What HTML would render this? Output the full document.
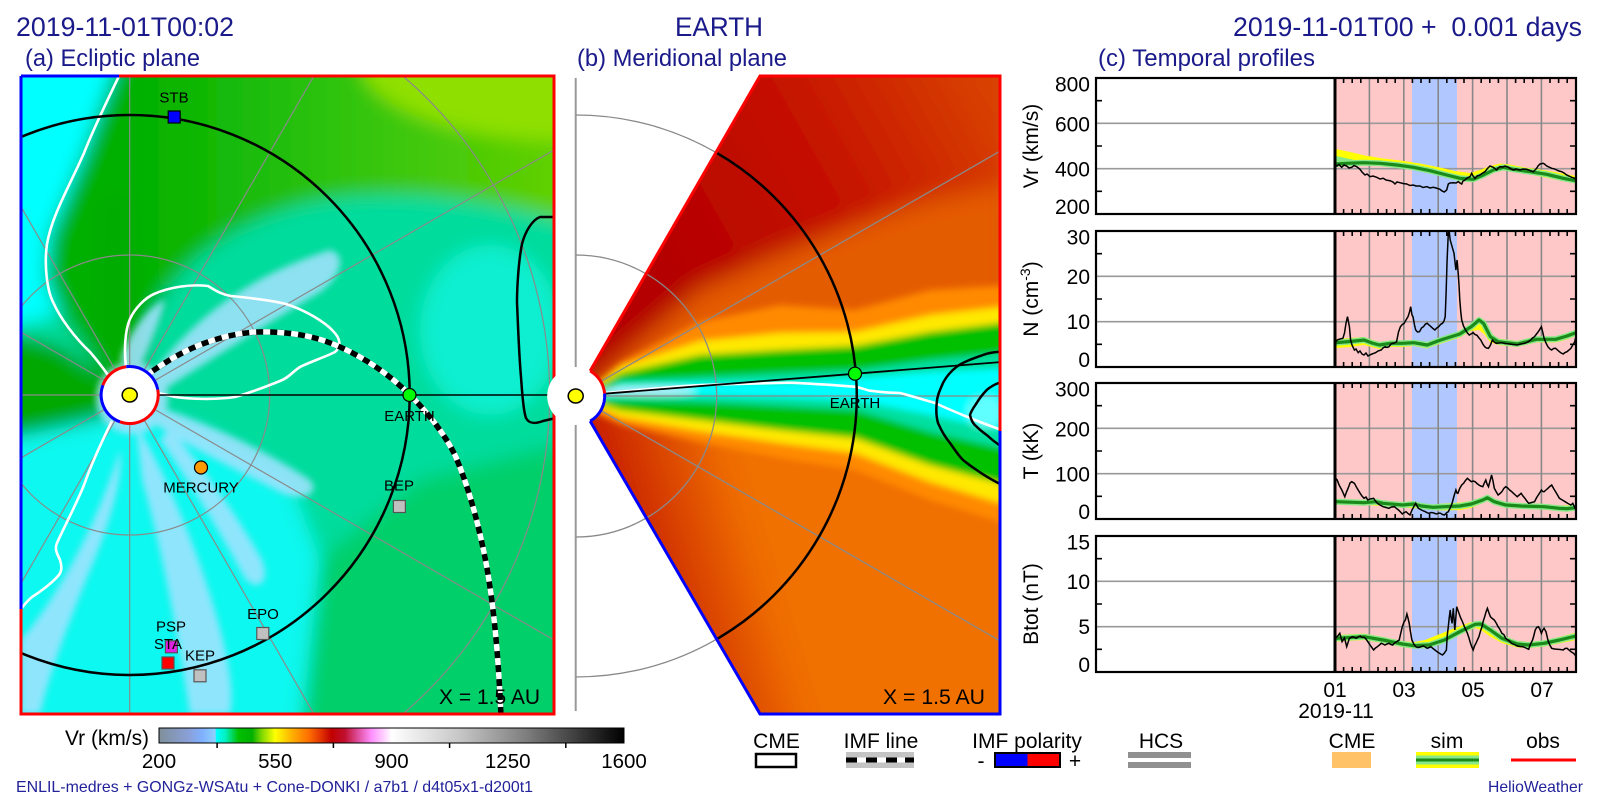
<!DOCTYPE html>
<html><head><meta charset="utf-8"><style>
html,body{margin:0;padding:0;background:#fff;width:1600px;height:800px;overflow:hidden;}
svg{display:block;overflow:hidden;}
text{font-family:"Liberation Sans",Arial,sans-serif;}
</style></head><body>
<svg width="1600" height="800" viewBox="0 0 1600 800" xmlns="http://www.w3.org/2000/svg">
<defs>
 <filter id="blBig" filterUnits="userSpaceOnUse" x="0" y="50" width="600" height="700"><feGaussianBlur stdDeviation="9"/></filter>
 <filter id="blSm" filterUnits="userSpaceOnUse" x="0" y="50" width="600" height="700"><feGaussianBlur stdDeviation="3.5"/></filter>
 <filter id="blB" filterUnits="userSpaceOnUse" x="560" y="50" width="460" height="700"><feGaussianBlur stdDeviation="3.5"/></filter>
 <filter id="blB2" filterUnits="userSpaceOnUse" x="560" y="50" width="460" height="700"><feGaussianBlur stdDeviation="12"/></filter>
 <clipPath id="clipA"><rect x="21" y="76" width="533" height="638"/></clipPath>
 <clipPath id="clipB"><path d="M590.2,370.9 L760,76 L1000,76 L1000,714 L760,714 L590.2,421.1 A29,29 0 0 0 590.2,370.9 Z"/></clipPath>
 <clipPath id="cV"><rect x="1096" y="78" width="480" height="136"/></clipPath>
 <clipPath id="cN"><rect x="1096" y="231" width="480" height="136"/></clipPath>
 <clipPath id="cT"><rect x="1096" y="383" width="480" height="136"/></clipPath>
 <clipPath id="cB"><rect x="1096" y="536" width="480" height="136"/></clipPath>
 <linearGradient id="cbar" x1="0" x2="1" y1="0" y2="0">
  <stop offset="0" stop-color="#7f8f9a"/>
  <stop offset="0.064" stop-color="#8aa0d8"/>
  <stop offset="0.093" stop-color="#80b0ff"/>
  <stop offset="0.121" stop-color="#90d0ff"/>
  <stop offset="0.123" stop-color="#00ffff"/>
  <stop offset="0.143" stop-color="#00f0c0"/>
  <stop offset="0.171" stop-color="#00c000"/>
  <stop offset="0.2" stop-color="#00b000"/>
  <stop offset="0.221" stop-color="#80d800"/>
  <stop offset="0.25" stop-color="#ffff00"/>
  <stop offset="0.286" stop-color="#ffb000"/>
  <stop offset="0.321" stop-color="#ff7000"/>
  <stop offset="0.35" stop-color="#e03000"/>
  <stop offset="0.371" stop-color="#c00000"/>
  <stop offset="0.4" stop-color="#c01030"/>
  <stop offset="0.429" stop-color="#e050a0"/>
  <stop offset="0.457" stop-color="#ff90ff"/>
  <stop offset="0.486" stop-color="#ffd8ff"/>
  <stop offset="0.5" stop-color="#ffffff"/>
  <stop offset="0.643" stop-color="#c8c8c8"/>
  <stop offset="0.786" stop-color="#808080"/>
  <stop offset="1" stop-color="#000000"/>
 </linearGradient>
 <linearGradient id="gA" gradientUnits="userSpaceOnUse" x1="130" y1="0" x2="554" y2="0">
  <stop offset="0" stop-color="#00b000"/><stop offset="0.5" stop-color="#30c410"/><stop offset="1" stop-color="#60d000"/>
 </linearGradient>
 <linearGradient id="gUp" gradientUnits="userSpaceOnUse" x1="680" y1="300" x2="1000" y2="120">
  <stop offset="0" stop-color="#b40000"/><stop offset="0.5" stop-color="#c41000"/><stop offset="1" stop-color="#d84000"/>
 </linearGradient>
 <linearGradient id="gLo" gradientUnits="userSpaceOnUse" x1="640" y1="620" x2="770" y2="580">
  <stop offset="0" stop-color="#c41800"/><stop offset="1" stop-color="#f07000"/>
 </linearGradient>

 <g id="pbg">
  <rect x="1096" y="0" width="480" height="136" fill="#fff"/>
  <rect x="1335" y="0" width="241" height="136" fill="#ffc8c8"/>
  <rect x="1412" y="0" width="45" height="136" fill="#b0c8ff"/>
  <path d="M1096,45.33H1576M1096,90.67H1576" stroke="#999" stroke-width="1.6" fill="none"/>
  <path d="M1369.4,0V136M1403.8,0V136M1438.2,0V136M1472.6,0V136M1507,0V136M1541.4,0V136" stroke="#888" stroke-width="1.6" fill="none"/>
 </g>
 <g id="pfg">
  <path d="M1335,0V136" stroke="#000" stroke-width="3" fill="none"/>
  <path d="M1343.6,0v5M1352.2,0v5M1360.8,0v5M1378,0v5M1386.6,0v5M1395.2,0v5M1412.4,0v5M1421,0v5M1429.6,0v5M1446.8,0v5M1455.4,0v5M1464,0v5M1481.2,0v5M1489.8,0v5M1498.4,0v5M1515.6,0v5M1524.2,0v5M1532.8,0v5M1550,0v5M1558.6,0v5M1567.2,0v5M1343.6,136v-5M1352.2,136v-5M1360.8,136v-5M1378,136v-5M1386.6,136v-5M1395.2,136v-5M1412.4,136v-5M1421,136v-5M1429.6,136v-5M1446.8,136v-5M1455.4,136v-5M1464,136v-5M1481.2,136v-5M1489.8,136v-5M1498.4,136v-5M1515.6,136v-5M1524.2,136v-5M1532.8,136v-5M1550,136v-5M1558.6,136v-5M1567.2,136v-5M1096,22.67h6M1096,68h6M1096,113.33h6M1576,22.67h-6M1576,68h-6M1576,113.33h-6M1576,45.33h-5M1576,90.67h-5" stroke="#000" stroke-width="1.6" fill="none"/>
  <rect x="1096" y="0" width="480" height="136" fill="none" stroke="#000" stroke-width="2.2"/>
 </g>
</defs>

<rect x="0" y="0" width="1600" height="800" fill="#fff"/>

<!-- Headers -->
<g fill="#1a1a8a">
 <text x="16" y="36" font-size="26.5" textLength="218" lengthAdjust="spacingAndGlyphs">2019-11-01T00:02</text>
 <text x="675" y="36" font-size="26.5" textLength="88" lengthAdjust="spacingAndGlyphs">EARTH</text>
 <text x="1233" y="36" font-size="26.5" textLength="349" lengthAdjust="spacingAndGlyphs" style="white-space:pre">2019-11-01T00 +  0.001 days</text>
 <text x="25" y="66" font-size="24" textLength="175" lengthAdjust="spacingAndGlyphs">(a) Ecliptic plane</text>
 <text x="577" y="66" font-size="24" textLength="210" lengthAdjust="spacingAndGlyphs">(b) Meridional plane</text>
 <text x="1098" y="66" font-size="24" textLength="217" lengthAdjust="spacingAndGlyphs">(c) Temporal profiles</text>
</g>

<!-- ================= PANEL A ================= -->
<g clip-path="url(#clipA)">
 <g filter="url(#blBig)">
  <rect x="0" y="50" width="580" height="690" fill="#00dc9c"/>
  <path d="M320,560 L420,480 L580,440 L580,740 L300,740 Z" fill="#00cf6a"/>
  <path d="M122,50 L580,50 L580,225 C480,195 380,185 300,205 C230,225 175,265 150,320 L135,395 L105,378 L67,322 L46,277 L50,236 L84,153 Z" fill="url(#gA)"/>
  <ellipse cx="560" cy="60" rx="200" ry="80" fill="#8fe000"/>
  <path d="M95,200 L130,190 L140,330 L135,392 L110,378 L90,350 Z" fill="#00ac00"/>
  <path d="M0,50 L121,50 L84,153 L50,236 L46,277 L58,315 L0,330 Z" fill="#00ffff"/>
  <path d="M135,395 L100,372 L60,345 L0,330 L0,440 L60,432 L108,416 Z" fill="#00a800"/>
  <path d="M0,440 L100,420 L135,410 L200,430 L290,480 L320,560 L300,740 L0,740 Z" fill="#10f8f0"/>
  <ellipse cx="490" cy="330" rx="70" ry="85" fill="#10efd0"/>
 </g>
 <g filter="url(#blSm)" fill="#a6e2ff" opacity="0.85">
  <path d="M150,378 C190,320 250,275 330,250 C348,255 340,278 320,292 C270,322 210,360 160,392 Z"/>
  <path d="M152,405 C200,420 260,447 310,480 C322,495 300,502 280,492 C230,467 180,442 146,418 Z"/>
  <path d="M136,424 C160,464 186,522 206,582 C222,632 236,682 230,714 L190,714 C180,650 165,560 142,480 Z"/>
  <path d="M170,428 C205,470 240,520 262,560 C272,585 255,592 244,577 C220,532 190,482 160,440 Z"/>
  <path d="M21,640 C55,600 95,530 120,450 C124,475 110,525 88,575 C70,620 50,670 40,714 L21,714 Z"/>
  <circle cx="132" cy="398" r="36"/>
  <path d="M120,360 C130,330 150,305 165,300 C160,320 150,345 140,368 Z"/>
 </g>
 <!-- grid -->
 <g stroke="#8a8a8a" stroke-width="1.2" fill="none">
  <circle cx="129.7" cy="395" r="140"/>
  <path d="M402.9,76 A420,420 0 0 1 402.9,714"/>
  <path d="M154.4,380.75L554,150M144,370.3L313.9,76M129.7,366.5L129.7,76M115.45,370.3L21,206.7M105,380.75L21,332.2M101.2,395L21,395M105,409.25L21,457.8M115.45,419.7L21,583.3M129.7,423.5L129.7,714M144,419.7L313.9,714M154.4,409.25L554,640"/>
 </g>
 <!-- HCS white lines -->
 <g stroke="#fff" stroke-width="2.6" fill="none" stroke-linejoin="round">
  <path d="M119,76 C110,95 95,125 84,153 C70,185 52,215 47,244 C44,265 47,290 53,302 C60,318 75,338 90,352 C97,360 103,368 108,375"/>
  <path d="M126,367 C124,350 125,330 130,319 C135,308 145,298 154,294 C170,287 190,284 208,286 C215,290 220,294 231,296 C250,298 270,300 286,304 C305,310 325,322 333,331 C340,338 342,346 335,352 C325,357 310,362 300,367 C292,372 290,377 280,381 C265,387 250,393 235,397 C215,400 190,399 175,397 C168,395 162,394 157,393"/>
  <path d="M112,421 C105,435 92,462 84,485 C76,505 65,525 57,543 C54,550 58,555 60,560 C62,566 62,572 58,576 C52,583 40,592 32,597 C27,601 24,605 21,609"/>
 </g>
 <!-- CME contour -->
 <path d="M556,217 L540,217 C532,220 525,232 522,244 C519,258 517,285 517,302 C518,325 519,355 521,377 C522,390 523,410 526,418 C529,424 535,424 543,421 L556,418" stroke="#000" stroke-width="2.5" fill="none"/>
 <!-- Earth orbit & line -->
 <circle cx="129.7" cy="395" r="280" stroke="#000" stroke-width="2.5" fill="none"/>
 <path d="M158,395H556" stroke="#000" stroke-width="1.6"/>
 <!-- IMF line -->
 <path d="M147,375 C165,362 185,350 205,343 C230,334 250,331 270,332 C300,333 320,338 340,347 C365,358 390,375 410,395 C430,415 445,435 455,455 C470,490 480,530 487,568 C494,610 498,650 501,716" stroke="#000" stroke-width="5.5" fill="none"/>
 <path d="M147,375 C165,362 185,350 205,343 C230,334 250,331 270,332 C300,333 320,338 340,347 C365,358 390,375 410,395 C430,415 445,435 455,455 C470,490 480,530 487,568 C494,610 498,650 501,716" stroke="#fff" stroke-width="5.5" fill="none" stroke-dasharray="7 7"/>
 <!-- Sun -->
 <circle cx="129.7" cy="395" r="28.5" fill="#fff"/>
 <g stroke-width="3" fill="none">
  <path d="M157.7,389.6 A28.5,28.5 0 0 0 126.2,366.7" stroke="#0000ff"/>
  <path d="M126.2,366.7 A28.5,28.5 0 0 0 102.9,385.3" stroke="#ff0000"/>
  <path d="M102.9,385.3 A28.5,28.5 0 0 0 119.9,421.8" stroke="#0000ff"/>
  <path d="M119.9,421.8 A28.5,28.5 0 0 0 157.7,389.6" stroke="#ff0000"/>
 </g>
 <ellipse cx="129.7" cy="395" rx="7.5" ry="7" fill="#ffff00" stroke="#000" stroke-width="1.5"/>
 <!-- markers -->
 <g stroke="#000" stroke-width="1.2">
  <rect x="168.2" y="111" width="12" height="12" fill="#0000ff"/>
  <circle cx="409.5" cy="395" r="6.5" fill="#00ff00"/>
  <circle cx="201" cy="467.5" r="6.5" fill="#ff9900"/>
 </g>
 <g stroke="#555" stroke-width="1.2">
  <rect x="393.4" y="500.5" width="12" height="12" fill="#c0c0c0"/>
  <rect x="256.8" y="627.5" width="12" height="12" fill="#c0c0c0"/>
  <rect x="165.4" y="640.8" width="12" height="12" fill="#e020e0"/>
  <rect x="162" y="657" width="12" height="12" fill="#ff0000"/>
  <rect x="194" y="669.8" width="12" height="12" fill="#c0c0c0"/>
 </g>
 <g font-size="15" fill="#000" text-anchor="middle">
  <text x="174" y="102.5">STB</text>
  <text x="409.5" y="421">EARTH</text>
  <text x="201" y="492.5">MERCURY</text>
  <text x="399" y="490.5">BEP</text>
  <text x="263" y="619">EPO</text>
  <text x="171" y="631.5">PSP</text>
  <text x="168" y="649">STA</text>
  <text x="200" y="660.5">KEP</text>
 </g>
 <text x="439" y="704" font-size="21" fill="#000" textLength="101" lengthAdjust="spacingAndGlyphs">X = 1.5 AU</text>
</g>
<!-- Panel A border -->
<g stroke-width="3" fill="none">
 <path d="M21,76 H119" stroke="#0000ff"/>
 <path d="M119,76 H554 V714 H21 V609" stroke="#ff0000"/>
 <path d="M21,609 V76" stroke="#0000ff"/>
</g>

<!-- ================= PANEL B ================= -->
<g stroke="#999" stroke-width="2" fill="none">
 <path d="M575.7,78V367M575.7,425V711"/>
</g>
<g stroke="#8a8a8a" stroke-width="1.3" fill="none">
 <path d="M575.7,115 A281,281 0 0 1 716.2,152.6"/>
 <path d="M716.2,639.4 A281,281 0 0 1 575.7,677"/>
 <path d="M575.7,255 A141,141 0 0 1 646.2,273.9"/>
 <path d="M646.2,518.1 A141,141 0 0 1 575.7,537"/>
</g>
<g clip-path="url(#clipB)">
 <g filter="url(#blB2)">
  <rect x="560" y="50" width="460" height="355" fill="url(#gUp)"/>
  <rect x="560" y="396" width="460" height="354" fill="url(#gLo)"/>
  <path d="M585,392 L590,388 L620,360 L700,290 L780,255 L855,225 L930,200 L1010,185 L1010,400 L585,400 Z" fill="#e45c00"/>
 </g>
 <g filter="url(#blB)">
  <path d="M585,394 L590,390 L620,363 L700,322 L780,305 L855,310 L930,290 L1010,285 L1010,400 L585,400 Z" fill="#ff8a00"/>
  <path d="M585,396 L1010,396 L1010,525 L930,500 L855,470 L780,458 L700,442 L620,424 L590,410 Z" fill="#ff8a00"/>
  <path d="M590,389 L620,367 L700,341 L780,333 L855,332 L930,315 L1010,306 L1010,506 L930,482 L855,453 L780,443 L700,431 L620,417 L590,404 Z" fill="#ffe800"/>
  <path d="M592,391 L620,373 L700,355 L780,350 L855,346 L930,332 L1010,322 L1010,486 L930,465 L855,438 L780,430 L700,420 L620,410 L592,401 Z" fill="#00c000"/>
  <path d="M596,393 L620,381 L700,377 L780,373 L855,370 L930,360 L1010,352 L1010,450 L930,432 L855,410 L780,406 L700,402 L620,400 L596,399 Z" fill="#00e0a0"/>
  <path d="M600,394 L620,385 L700,383 L780,383 L855,378 L930,372 L1010,368 L1010,432 L930,415 L855,400 L780,397 L700,395 L620,395 L600,397 Z" fill="#00ffff"/>
  <ellipse cx="648" cy="391" rx="48" ry="4" fill="#b8ecff"/>
  <ellipse cx="985" cy="412" rx="18" ry="16" fill="#60ffff"/>
 </g>
 <g stroke="#8a8a8a" stroke-width="1.3" fill="none">
  <circle cx="575.7" cy="396" r="141"/>
  <path d="M600.8,381.5L1010,145.3M604.7,396H1010M600.8,410.5L1010,646.7"/>
 </g>
 <path d="M605,393 C640,390 680,386 700,385 C730,384 770,383 790,382.7 C820,384 845,386 855,386.7 C862,388 866,390 870,390.7 C880,392 890,393 900,393 C912,396 924,400 935,403 C948,409 958,413 970,418 C980,422 990,426 1002,430" stroke="#fff" stroke-width="2.6" fill="none"/>
 <g stroke="#000" stroke-width="2.5" fill="none">
  <path d="M1002,351.7 C995,352 988,353 983,355 C972,359 963,362 956.7,366.7 C950,372 946,377 943,383 C940,390 937,396 936.7,403 C936,410 936,416 938,423 C941,430 945,437 950,443 C955,450 958,455 963,460 C968,464 972,467 976.7,470 C985,476 992,480 1002,485"/>
  <path d="M1002,381.7 C995,384 990,387 986.7,390 C982,395 979,399 976.7,403 C974,407 971,411 970,415 C971,420 973,424 976.7,426.7 C980,430 984,433 986.7,435 C991,439 996,443 1002,447"/>
  <path d="M716.2,152.6 A281,281 0 0 1 716.2,639.4"/>
 </g>
 <path d="M604.6,393.7 L1002,362" stroke="#000" stroke-width="1.8"/>
 <circle cx="855" cy="373.7" r="6.5" fill="#00ff00" stroke="#000" stroke-width="1.2"/>
 <text x="855" y="408" font-size="15" fill="#000" text-anchor="middle">EARTH</text>
 <text x="883" y="704" font-size="21" fill="#000" textLength="102" lengthAdjust="spacingAndGlyphs">X = 1.5 AU</text>
</g>
<circle cx="575.7" cy="396" r="28.5" fill="#fff"/>
<g stroke-width="3" fill="none">
 <path d="M590.2,370.9 A29,29 0 0 1 604.6,393.5" stroke="#ff0000"/>
 <path d="M604.6,393.5 A29,29 0 0 1 590.2,421.1" stroke="#0000ff"/>
 <path d="M590.2,370.9 L760,76 H1000 V431" stroke="#ff0000"/>
 <path d="M1000,431 V714 H760 L590.2,421.1" stroke="#0000ff"/>
</g>
<ellipse cx="575.7" cy="396" rx="7.5" ry="7" fill="#ffff00" stroke="#000" stroke-width="1.5"/>

<!-- ================= PANEL C ================= -->
<!-- Vr -->
<use href="#pbg" transform="translate(0,78)"/>
<g clip-path="url(#cV)">
 <polygon points="1336,149 1350,152 1365,155.5 1380,158 1400,160.5 1420,163.5 1440,167.5 1455,171 1470,173 1480,170 1490,166 1500,163.5 1510,164.5 1525,167.5 1540,169.5 1555,172 1576,176 1576,183 1560,180.5 1540,176.5 1520,172.5 1505,169.5 1493,172 1483,178 1473,182 1460,180.5 1446,177 1430,172.5 1413,169 1396,166.5 1380,165 1363,164.5 1346,165 1336,166" fill="#ffff00"/>
 <polygon points="1336,156 1352,159.5 1366,162 1336,165" fill="#86e886"/>
 <polyline points="1336,164 1346.7,163.3 1363.3,162.7 1380,163.3 1396.7,165 1413.3,167.3 1430,170.7 1446.7,175 1460,178.3 1473.3,179.3 1483.3,175 1493.3,170 1503.3,167.3 1513.3,169.3 1530,171.7 1546.7,174.3 1563.3,178.3 1576,180.7" fill="none" stroke="#86e886" stroke-width="6" stroke-linejoin="round"/>
 <polyline points="1336,164 1346.7,163.3 1363.3,162.7 1380,163.3 1396.7,165 1413.3,167.3 1430,170.7 1446.7,175 1460,178.3 1473.3,179.3 1483.3,175 1493.3,170 1503.3,167.3 1513.3,169.3 1530,171.7 1546.7,174.3 1563.3,178.3 1576,180.7" fill="none" stroke="#1a8a1a" stroke-width="3.2" stroke-linejoin="round"/>
 <polyline points="1335.5,165 1337,166 1339,164.5 1341.7,167.3 1344,165 1346.7,166 1349,168 1351.7,167.3 1354,165.5 1356.7,166.7 1360,169.3 1362,172 1365,175 1367,174 1370,176.7 1373,176 1376.7,177.3 1380,179 1383.3,178.3 1386,180 1390,180.7 1393,182 1395,184 1397,182 1400,182.7 1403,183.5 1406.7,184 1410,185.5 1413.3,185 1416,186 1420,186 1423,187.5 1426.7,186.7 1430,188 1433.3,187.3 1436,188 1440,189.3 1442,191 1444.3,192 1446.7,190 1448.3,184 1450,183 1453.3,182.7 1456,183 1458.3,181.7 1460,183 1461.7,184 1463,181 1465,180 1467,178 1470,176.7 1471.7,173.3 1473,176 1475,178.3 1477,176 1480,175 1482,173.5 1485,171.7 1487,169 1490,166 1493.3,167.3 1496.7,170 1498,168 1500,166.7 1503,167 1505,166 1508,167 1510,168.3 1513.3,170 1516,169 1520,170 1523,169 1526.7,169.3 1530,170.5 1533.3,171.7 1535,170 1536.7,168.3 1538,166 1540,164 1543.3,163.3 1545,164.5 1546.7,166 1549,167 1551.7,168.3 1554,168.8 1556.7,170 1559,171 1561.7,171.7 1564,173 1566.7,175 1569,176 1571.7,177.3 1574,178 1576,179.3" fill="none" stroke="#000" stroke-width="1.5"/>
</g>
<use href="#pfg" transform="translate(0,78)"/>

<!-- N -->
<use href="#pbg" transform="translate(0,231)"/>
<g clip-path="url(#cN)">
 <polygon points="1336,339 1364,337 1379,342 1402,340.5 1427,342 1441,337 1460,331 1471,323.5 1479,317 1484,320 1491,333 1498,338.5 1517,341 1536,336.5 1556,336.5 1567,333 1576,330 1576,336 1567,339.5 1556,342.5 1536,342.5 1517,347 1498,345 1490,342 1484,334 1479,330 1471,331 1460,337.5 1441,343.5 1427,348.5 1414,346 1402,347 1391,347 1379,349 1364,345 1350,347 1336,348" fill="#ffff00"/>
 <polyline points="1336,342.7 1350,341.5 1364,340 1372,343 1379.3,345 1390.8,343.3 1402.3,343.3 1413.8,342.7 1427.2,345 1440.6,340 1459.8,334 1471.3,326.7 1479,320 1483.5,323.3 1490.4,336.7 1498.1,341.7 1517.2,344 1536.4,339.3 1555.6,339.3 1567,336 1576,332.7" fill="none" stroke="#86e886" stroke-width="6" stroke-linejoin="round"/>
 <polyline points="1336,342.7 1350,341.5 1364,340 1372,343 1379.3,345 1390.8,343.3 1402.3,343.3 1413.8,342.7 1427.2,345 1440.6,340 1459.8,334 1471.3,326.7 1479,320 1483.5,323.3 1490.4,336.7 1498.1,341.7 1517.2,344 1536.4,339.3 1555.6,339.3 1567,336 1576,332.7" fill="none" stroke="#1a8a1a" stroke-width="3.2" stroke-linejoin="round"/>
 <polyline points="1335.5,342 1337.2,340 1340,339 1342.9,338.3 1344.5,333 1346,323.3 1347.5,316.7 1349.4,326.7 1350.6,340 1352,345 1354.4,350 1356,349 1358.2,352.7 1360,351 1362,354 1364,355 1366,353 1368,356 1369.7,355 1372,354 1375.5,352.7 1378,351 1381.2,350 1383,348 1385,346.7 1387,347.5 1388.9,346.7 1391,344 1392.7,343.3 1394.5,343 1396.6,341.7 1398.5,332 1400.4,326.7 1402.3,324.5 1404.2,323.3 1406,320 1408,316.7 1409.5,312 1410.7,306.7 1412,315 1413,316.7 1414.5,325 1415.7,330 1417.5,332 1419.5,331.7 1421.5,328 1423.4,326.7 1425.5,324 1427.2,323.3 1429,325 1431,326.7 1433,328.5 1434.9,330 1436.8,328 1438.7,326.7 1440.5,324.5 1442.5,323.3 1444,321 1445.2,316.7 1446.2,290 1447.1,260 1448.3,233.3 1449,230 1450.2,240 1452.1,246.7 1454,253.3 1455,262 1455.9,270 1457.1,260 1458.2,273.3 1459,285 1459.8,300 1460.8,312 1461.7,320 1463.5,326 1465.5,330 1467.5,333 1469.3,335 1471,334 1473.2,332.7 1475,334.5 1477,335.3 1479,338 1480.8,340 1482.8,344 1484.7,346.7 1486.5,348 1488.5,348.3 1490.5,345 1492.3,340 1494.2,342 1496.2,343.3 1499,343 1501.9,342.7 1505,343.5 1509.6,344 1513,344.5 1517.2,345 1521,344 1524.9,343.3 1528,342 1530.7,340 1532.5,338 1534.5,336.7 1536.5,334 1538.3,331.7 1540,329 1541.4,326.7 1542.7,332 1544.1,338.3 1546,343 1547.9,346.7 1550,349 1551.7,350 1553.5,348.5 1555.6,348.3 1557.5,350 1559.4,351.7 1561.2,353 1563.2,354 1565,352.5 1567,351.7 1569,350 1570.9,348.3 1572.8,345 1574.7,341.7 1575.9,336.7" fill="none" stroke="#000" stroke-width="1.5"/>
</g>
<use href="#pfg" transform="translate(0,231)"/>

<!-- T -->
<use href="#pbg" transform="translate(0,383)"/>
<g clip-path="url(#cT)">
 <polygon points="1336,499.5 1364,500.5 1383,501 1402,502.5 1421,503.5 1433,504.5 1444,503.5 1460,502.5 1471,501 1483,497 1487,495 1494,499 1506,502.5 1521,503.5 1544,504 1559,505.5 1576,505 1576,510.5 1559,511 1544,509.5 1521,508.5 1506,507.5 1494,504.5 1487,501 1483,503 1471,508 1460,510 1444,510.5 1433,510 1421,508.5 1402,507.5 1383,506 1364,505 1336,504.5" fill="#ffff00"/>
 <polyline points="1336,501.7 1364,502.7 1375.5,501.7 1383.1,503.3 1402.3,505 1413.8,504 1421.5,506 1433,507.3 1444.4,506.7 1459.8,506 1471.3,504 1482.8,500 1487.4,497.7 1494.3,501.7 1505.7,505 1521.1,506 1544.1,506.7 1559.4,508.3 1567,508.7 1576,507.7" fill="none" stroke="#86e886" stroke-width="6" stroke-linejoin="round"/>
 <polyline points="1336,501.7 1364,502.7 1375.5,501.7 1383.1,503.3 1402.3,505 1413.8,504 1421.5,506 1433,507.3 1444.4,506.7 1459.8,506 1471.3,504 1482.8,500 1487.4,497.7 1494.3,501.7 1505.7,505 1521.1,506 1544.1,506.7 1559.4,508.3 1567,508.7 1576,507.7" fill="none" stroke="#1a8a1a" stroke-width="3.2" stroke-linejoin="round"/>
 <polyline points="1335.5,478 1337.2,480 1339.1,485 1341.8,490 1344.8,496.7 1346.5,492 1348.7,486.7 1350,483 1351.7,481.7 1354.4,483.3 1357.1,488.3 1360.2,493.3 1362,496 1364,498.3 1366,497 1367.8,500 1370,499 1373.6,498.3 1375.5,501 1377.4,503.3 1380,505 1383.1,506.7 1386,507.5 1388.9,508.3 1391.5,507 1394.6,506.7 1396.5,508.5 1398.5,510 1400.5,512 1402.3,514 1404.2,512.5 1406.1,511.7 1408,513.5 1410,515 1412,510 1413.8,506.7 1415.7,503.3 1417,506 1418.4,508.3 1421.5,510 1423.5,511 1425.3,511.7 1427,512.7 1429.1,513.3 1431,512.5 1433,512.7 1435,513.5 1436.8,514 1438.7,513 1440.6,513.3 1442.5,514.5 1444.4,515 1446.4,513 1448.3,511.7 1450.2,508 1452.1,503.3 1454,496 1455.9,490 1457,493 1457.9,493.3 1459.8,488.3 1461.7,485 1463.6,483.3 1465.5,480.5 1467.4,478.3 1469.3,480 1471.3,481.7 1473.2,481 1475.1,481.7 1477,483.5 1478.9,485 1480.8,486 1482.8,486.7 1484.3,483 1485.8,480 1487,484 1488.5,486.7 1490,481 1491.6,475 1493,481 1494.3,488.3 1496.2,491.7 1498.1,495 1500,493.5 1501.9,491.7 1503.8,488.5 1505.7,486.7 1507.7,488 1509.6,490 1511.5,491.5 1513.4,493.3 1515.3,495 1517.2,496.7 1519.2,495 1521.1,493.3 1523,496 1524.9,498.3 1526.8,501 1528.7,503.3 1531.6,502.5 1534.5,501.7 1536.4,498 1538.3,495 1539.9,492.5 1541.4,490 1542.7,491.5 1544.1,491.7 1546,490 1547.9,488.3 1549.8,486.5 1551.7,485 1553.6,488.5 1555.6,491.7 1557.5,495 1559.4,498.3 1562.3,500 1565.1,501.7 1568,503.5 1570.9,505 1572.8,503.3 1574.5,507 1575.9,510" fill="none" stroke="#000" stroke-width="1.5"/>
</g>
<use href="#pfg" transform="translate(0,383)"/>

<!-- Btot -->
<use href="#pbg" transform="translate(0,536)"/>
<g clip-path="url(#cB)">
 <polygon points="1336,635 1364,633.5 1383,637 1402,641 1414,642 1425,640 1440,634 1455,628 1470,622.5 1481,621 1490,627 1502,635 1517,641 1529,642 1544,640.5 1559,637 1576,632.5 1576,640 1559,643.5 1544,646.5 1529,648 1517,647.5 1502,643 1490,636.5 1481,630 1475,628 1460,634.5 1444,643 1429,648 1414,648.5 1402,647 1383,643 1364,640 1336,641.5" fill="#ffff00"/>
 <polyline points="1336,638.3 1364,636.7 1383.1,640 1402.3,644 1413.8,645.7 1429.1,645 1444.4,640 1459.8,631.7 1475.1,624.3 1480.8,624 1490.4,630 1501.9,638.3 1517.2,644 1528.7,645 1544.1,643.3 1559.4,640 1576,636" fill="none" stroke="#86e886" stroke-width="6" stroke-linejoin="round"/>
 <polyline points="1336,638.3 1364,636.7 1383.1,640 1402.3,644 1413.8,645.7 1429.1,645 1444.4,640 1459.8,631.7 1475.1,624.3 1480.8,624 1490.4,630 1501.9,638.3 1517.2,644 1528.7,645 1544.1,643.3 1559.4,640 1576,636" fill="none" stroke="#1a8a1a" stroke-width="3.2" stroke-linejoin="round"/>
 <polyline points="1335.5,638 1337.2,636.7 1339.8,633.3 1342.1,641.7 1344.5,638 1346.7,646.7 1349.4,638.3 1352.5,636.7 1354.5,637.5 1356.3,638.3 1358,637 1360.2,636 1362,637.5 1364,637.3 1366,639 1367.8,641.7 1370,645 1373.6,650 1375.5,648 1377.4,646.7 1379.5,645 1381.2,643.3 1383,644 1385,645 1387,644 1388.9,643.3 1391,644.5 1392.7,645 1394.5,643 1396.6,641.7 1399.2,640 1400.8,633 1402.3,626.7 1404,622 1405.4,620 1406.9,614 1408,618 1409.2,623.3 1410.5,632 1411.9,640 1413.8,644 1415.7,646.7 1417.5,647.5 1419.5,647.3 1421.5,646.5 1423.4,646 1425.3,647 1427.2,648.3 1429.1,647.5 1431,646.7 1433,648.5 1434.9,650 1436.8,651.5 1438.7,652.7 1440.6,654 1442.5,655 1444.4,653 1446.4,650 1447.3,635 1448.3,626.7 1449.2,618 1450.2,610 1451.1,618 1452.1,623.3 1452.7,615 1453.3,608.3 1454,618 1454.8,630 1455.8,618 1456.7,606.7 1457.8,610 1459,613.3 1460.3,617 1461.7,620 1463,623 1464.4,626.7 1466,630 1467.4,633.3 1469,638 1470.5,643.3 1471.8,647 1473.2,650 1474.5,646 1475.9,643.3 1477.4,640 1478.9,636.7 1480.5,631 1482,626.7 1483.3,621 1484.7,616.7 1486,612 1487.4,608.3 1489,613 1490.4,616.7 1492.3,618.5 1494.3,620 1496.2,623 1498.1,626.7 1500,629.5 1501.9,633.3 1503.8,634.5 1505.7,638.3 1508.6,640.5 1511.5,643.3 1514.4,644.5 1517.2,646 1520.1,646.5 1523,646.7 1525.9,648 1528.7,649.3 1530.5,644 1532.6,640 1534,635 1535.2,630 1536.7,627.5 1538.3,626.7 1539.8,629 1541.4,633.3 1542.8,630 1544.1,628.3 1545,630 1546,631.7 1547,636 1547.9,640 1549.8,645 1551.7,648.3 1554.6,649 1557.5,649.3 1560.4,649.5 1563.2,650 1565,648.5 1567,648.3 1569,650 1570.9,651.7 1572.3,652.5 1573.6,653.3 1575,655 1575.9,656.7" fill="none" stroke="#000" stroke-width="1.5"/>
</g>
<use href="#pfg" transform="translate(0,536)"/>

<!-- Panel C axis labels -->
<g font-size="21" fill="#000" text-anchor="end">
 <text x="1090" y="91.5">800</text><text x="1090" y="131.5">600</text><text x="1090" y="176.5">400</text><text x="1090" y="214">200</text>
 <text x="1090" y="244.5">30</text><text x="1090" y="284">20</text><text x="1090" y="329">10</text><text x="1090" y="367">0</text>
 <text x="1090" y="396.5">300</text><text x="1090" y="436.5">200</text><text x="1090" y="481.5">100</text><text x="1090" y="519">0</text>
 <text x="1090" y="549.5">15</text><text x="1090" y="589">10</text><text x="1090" y="634">5</text><text x="1090" y="672">0</text>
</g>
<g font-size="21" fill="#000" text-anchor="middle">
 <text transform="translate(1038,146) rotate(-90)">Vr (km/s)</text>
 <text transform="translate(1038,299) rotate(-90)">N (cm<tspan font-size="14" dy="-8">-3</tspan><tspan dy="8">)</tspan></text>
 <text transform="translate(1038,451) rotate(-90)">T (kK)</text>
 <text transform="translate(1038,604) rotate(-90)">Btot (nT)</text>
 <text x="1335" y="697">01</text><text x="1404" y="697">03</text><text x="1473" y="697">05</text><text x="1542" y="697">07</text>
 <text x="1336" y="718">2019-11</text>
</g>

<!-- Colorbar -->
<text x="65" y="745" font-size="21" fill="#000" textLength="84" lengthAdjust="spacingAndGlyphs">Vr (km/s)</text>
<rect x="159" y="728" width="465" height="15" fill="url(#cbar)" stroke="#000" stroke-width="1"/>
<path d="M217.1,743v5M333.4,743v5M449.6,743v5M565.8,743v5" stroke="#000" stroke-width="1.5"/>
<g font-size="20.5" fill="#000" text-anchor="middle">
 <text x="159" y="768">200</text><text x="275.2" y="768">550</text><text x="391.5" y="768">900</text><text x="507.7" y="768">1250</text><text x="624" y="768">1600</text>
</g>

<!-- Legend -->
<g font-size="21" fill="#000" text-anchor="middle">
 <text x="776.5" y="748">CME</text>
 <text x="881" y="748">IMF line</text>
 <text x="1027" y="748">IMF polarity</text>
 <text x="1161" y="748">HCS</text>
 <text x="1352" y="748">CME</text>
 <text x="1447" y="748">sim</text>
 <text x="1543" y="748">obs</text>
 <text x="981" y="768">-</text>
 <text x="1075" y="768">+</text>
</g>
<rect x="756" y="754" width="40" height="13" fill="#fff" stroke="#000" stroke-width="2.5"/>
<rect x="846" y="752" width="68" height="16" fill="#c4c4c4"/>
<path d="M846,760H914" stroke="#fff" stroke-width="5"/>
<path d="M846,760H857M866,760H877M886,760H897M905,760H914" stroke="#000" stroke-width="5"/>
<rect x="995" y="753" width="32.5" height="14" fill="#0000ff"/>
<rect x="1027.5" y="753" width="32.5" height="14" fill="#ff0000"/>
<rect x="995" y="753" width="65" height="14" fill="none" stroke="#000" stroke-width="2"/>
<rect x="1128" y="752" width="63" height="6" fill="#909090"/>
<rect x="1128" y="762" width="63" height="6" fill="#909090"/>
<rect x="1332" y="752" width="39" height="16" fill="#ffc266"/>
<rect x="1416" y="752" width="63" height="16" fill="#ffff00"/>
<rect x="1416" y="755.5" width="63" height="9" fill="#86e886"/>
<path d="M1416,760H1479" stroke="#1a8a1a" stroke-width="3"/>
<path d="M1511,760H1576" stroke="#ff0000" stroke-width="3"/>

<!-- Footer -->
<g font-size="16" fill="#22229a">
 <text x="16" y="792" textLength="517" lengthAdjust="spacingAndGlyphs">ENLIL-medres + GONGz-WSAtu + Cone-DONKI / a7b1 / d4t05x1-d200t1</text>
 <text x="1488" y="792" textLength="95" lengthAdjust="spacingAndGlyphs">HelioWeather</text>
</g>
</svg>
</body></html>
